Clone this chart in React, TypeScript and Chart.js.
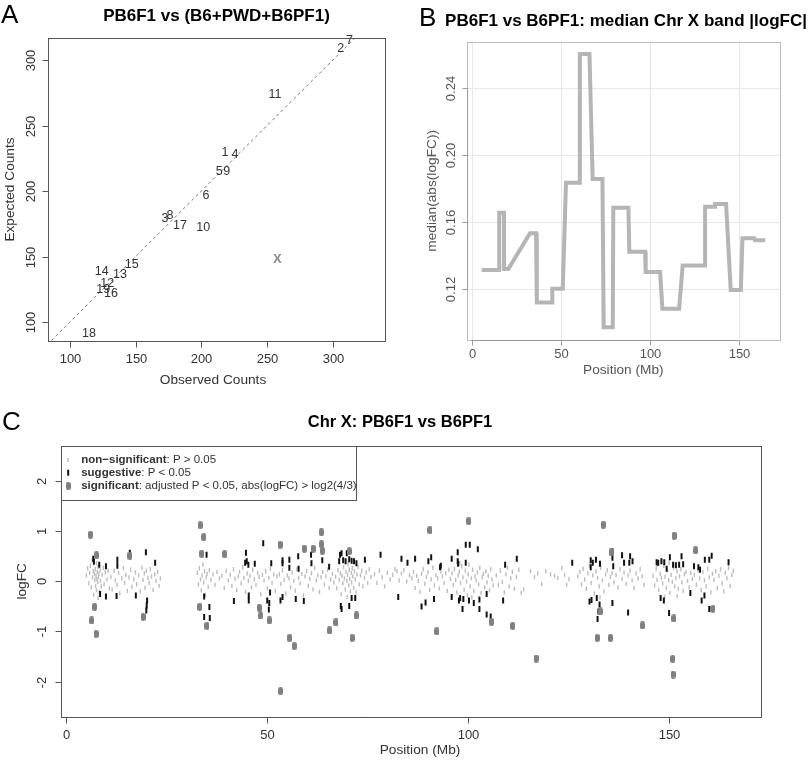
import React, { useEffect, useRef } from "react";
import { Chart, registerables } from "chart.js";

Chart.register(...registerables);

const SANS = '"Liberation Sans", Arial, Helvetica, sans-serif';

// ---------------- Panel A data ----------------
const chromosomes = ["1", "2", "3", "4", "5", "6", "7", "8", "9", "10", "11", "12", "13", "14", "15", "16", "17", "18", "19", "X"];
const observedCounts = [218, 306, 172.3, 225.6, 213.6, 203.5, 312.6, 176.1, 219.3, 201.4, 256, 128.4, 138, 124.1, 147, 131.2, 183.7, 114.5, 125.3, 257.8];
const expectedCounts = [229.2, 308.9, 179.2, 227.5, 214.5, 196.2, 314.7, 180.9, 214.5, 172.3, 273.3, 129, 135.9, 138.4, 143.5, 121.4, 173.3, 91.4, 125, 147.9];
const aTicks = [100, 150, 200, 250, 300];

// ---------------- Panel B data ----------------
const bandPos = [5.6, 15.5, 15.5, 18.2, 18.2, 20.6, 32.8, 36.2, 36.6, 45.3, 45.3, 51.2, 53, 60.5, 60.8, 66.2, 68, 73.5, 74.2, 79.3, 79.6, 88.1, 88.6, 97.5, 97.8, 105.9, 107.2, 116.6, 118.6, 131.2, 131.2, 136.8, 136.8, 143, 145.6, 151.3, 152.2, 158.8, 159.3, 165];
const bandMedian = [0.1313, 0.1313, 0.1656, 0.1656, 0.1319, 0.1319, 0.1533, 0.1533, 0.112, 0.112, 0.1202, 0.1202, 0.1836, 0.1836, 0.2605, 0.2605, 0.1858, 0.1858, 0.0971, 0.0971, 0.1686, 0.1686, 0.1423, 0.1423, 0.1301, 0.1301, 0.1082, 0.1082, 0.1341, 0.1341, 0.1692, 0.1692, 0.1708, 0.1708, 0.1194, 0.1194, 0.1503, 0.1503, 0.1491, 0.1491];
const bXTicks = [0, 50, 100, 150];
const bYTicks = [0.12, 0.16, 0.2, 0.24];

// ---------------- Panel C data: [position Mb, logFC] ----------------
const nonSignificant = [
  [5.1, 0.12], [5.4, 0.26], [5.7, -0.04], [5.9, 0.17], [6.1, 0.31], [6.3, -0.12], [6.6, 0.08], [6.8, 0.2], [6.9, -0.27], [7.1, 0.14], [7.2, 0.03], [7.3, 0.24], [7.4, -0.09], [7.5, 0.11], [7.6, 0.36], [7.6, -0.18], [7.7, 0.05], [7.8, 0.19], [7.9, -0.01], [8.0, 0.29], [8.0, -0.33], [8.1, 0.09], [8.2, 0.15], [8.3, -0.21], [8.5, 0.22], [8.6, 0.01], [8.8, -0.1], [9.0, 0.13], [9.3, 0.27], [9.5, -0.06], [9.8, 0.18], [10.2, 0.04], [10.5, 0.21], [10.8, -0.14], [6.5, 0.42],
  [11.2, 0.09], [11.5, -0.16], [12.0, 0.21], [12.3, 0.02], [12.7, -0.07], [13.1, 0.17], [13.4, -0.24], [13.9, 0.06], [14.3, 0.26], [14.6, -0.03], [14.9, 0.13], [15.3, -0.19], [15.7, 0.08], [16.1, 0.23], [16.4, -0.11], [16.9, 0.04], [17.3, 0.18], [17.6, -0.06], [18.1, 0.12], [18.5, -0.2], [18.9, 0.27], [19.2, 0.03], [19.5, 0.16], [19.7, -0.13], [20.0, 0.21], [20.4, 0.07], [20.7, -0.03], [21.0, 0.24], [21.3, 0.1], [21.7, -0.17], [22.1, 0.14], [22.4, 0.01], [22.8, 0.19], [23.2, -0.09], [23.5, 0.06],
  [32.7, 0.17], [33.0, -0.06], [33.2, 0.26], [33.5, 0.04], [33.7, -0.18], [33.9, 0.12], [34.1, 0.33], [34.3, -0.02], [34.5, 0.2], [34.7, -0.27], [34.9, 0.08], [35.1, 0.15], [35.4, -0.11], [35.7, 0.22], [36.1, 0.03], [36.6, 0.14], [37.1, -0.07], [37.6, 0.19], [38.2, 0.06], [38.8, 0.11], [39.4, -0.13], [39.9, 0.21], [40.4, 0.02],
  [40.9, 0.13], [41.3, -0.09], [41.7, 0.24], [42.1, 0.05], [42.5, -0.17], [42.9, 0.1], [43.2, 0.19], [43.6, -0.04], [44.0, 0.28], [44.3, 0.07], [44.7, -0.21], [45.1, 0.16], [45.4, 0.01], [45.8, 0.11], [46.2, -0.12], [46.5, 0.23], [46.9, 0.04], [47.3, -0.07], [47.7, 0.17], [48.1, 0.09], [48.5, -0.26], [48.9, 0.13], [49.3, 0.02], [49.7, 0.2], [50.1, -0.14], [50.5, 0.07], [50.9, 0.25], [51.3, -0.03], [51.7, 0.14], [52.1, -0.19], [52.5, 0.1],
  [53.1, 0.14], [53.5, -0.05], [53.9, 0.22], [54.3, 0.03], [54.7, -0.24], [55.1, 0.12], [55.5, 0.06], [55.9, -0.12], [56.3, 0.18], [56.7, 0.01], [57.1, -0.19], [57.5, 0.24], [57.9, 0.07], [58.3, -0.04], [58.7, 0.15], [59.1, -0.28], [59.5, 0.1], [59.9, 0.2], [60.3, -0.09], [60.7, 0.05], [61.1, 0.16], [61.5, -0.16], [61.9, 0.27], [62.3, 0.02], [62.7, 0.12], [63.1, -0.21], [63.5, 0.08], [63.9, 0.19], [64.3, -0.06], [64.7, 0.1], [65.1, 0.23], [65.5, -0.13], [65.9, 0.04], [66.3, 0.15], [66.7, -0.02],
  [67.1, 0.09], [67.4, -0.14], [67.7, 0.22], [68.0, 0.03], [68.3, 0.16], [68.5, -0.26], [68.7, 0.11], [68.9, -0.04], [69.1, 0.28], [69.3, 0.06], [69.5, -0.16], [69.7, 0.19], [69.9, 0.01], [70.0, -0.31], [70.1, 0.13], [70.2, 0.34], [70.4, -0.08], [70.5, 0.23], [70.6, 0.05], [70.8, -0.2], [71.0, 0.17], [71.1, -0.02], [71.3, 0.26], [71.4, 0.1], [71.6, -0.13], [71.8, 0.2], [72.0, 0.04], [72.2, -0.22], [72.4, 0.14], [72.7, 0.29], [73.0, -0.06], [73.3, 0.12], [73.6, 0.21], [73.9, -0.1], [74.3, 0.07], [74.7, 0.18], [75.1, -0.03], [75.5, 0.24], [75.9, 0.09], [70.3, 0.4],
  [76.8, 0.14], [77.4, -0.03], [78.0, 0.21], [78.7, 0.08], [79.3, -0.1], [80.0, 0.17], [80.7, 0.04], [81.3, 0.13], [81.9, 0.24], [82.4, 0.2], [82.9, 0.02], [83.5, 0.16], [84.1, 0.22], [84.8, 0.0], [85.5, 0.12],
  [86.1, 0.06], [86.5, 0.19], [86.9, -0.13], [87.3, 0.11], [87.7, 0.01], [88.1, -0.21], [88.5, 0.15], [88.9, 0.24], [89.3, -0.05], [89.7, 0.09], [90.1, 0.18], [90.5, -0.17], [90.9, 0.04], [91.3, 0.27], [91.7, -0.08], [92.1, 0.13], [92.5, 0.06], [92.9, -0.14], [93.3, 0.2], [93.7, 0.1], [94.1, -0.03], [94.5, 0.16], [94.9, -0.19], [95.3, 0.23], [95.7, 0.05],
  [96.1, 0.16], [96.4, -0.07], [96.7, 0.24], [97.0, 0.03], [97.3, -0.22], [97.6, 0.12], [97.9, 0.19], [98.2, -0.03], [98.5, 0.3], [98.8, 0.08], [99.1, -0.17], [99.4, 0.21], [99.7, 0.0], [99.9, -0.28], [100.1, 0.14], [100.3, 0.33], [100.6, -0.1], [100.9, 0.06], [101.2, 0.23], [101.5, -0.19], [101.8, 0.1], [102.1, 0.02], [102.4, 0.18], [102.7, -0.06], [103.0, 0.27], [103.3, -0.23], [103.6, 0.08], [103.9, 0.15], [104.2, -0.12], [104.5, 0.2], [104.8, -0.02], [105.1, 0.11], [105.4, -0.18], [105.7, 0.24], [106.0, 0.04], [106.3, -0.08], [101.0, -0.32], [98.0, 0.36],
  [107.1, 0.12], [107.6, -0.07], [108.1, 0.21], [108.6, -0.01], [109.1, -0.22], [109.5, 0.14], [109.9, 0.27], [110.3, -0.1], [110.7, 0.06], [111.1, 0.19], [111.6, -0.15], [112.1, 0.09], [112.7, 0.23], [113.3, -0.23], [113.9, -0.16],
  [115.6, 0.2], [116.6, 0.09], [117.4, 0.16], [118.4, -0.05], [119.4, 0.2], [120.6, 0.14], [121.6, 0.11], [122.4, 0.07], [123.4, 0.26], [124.1, 0.13], [124.6, -0.07], [125.2, 0.04],
  [127.4, 0.1], [127.9, 0.19], [128.3, -0.06], [128.7, 0.25], [129.1, 0.04], [129.5, -0.15], [129.9, 0.16], [130.3, 0.31], [130.7, -0.03], [131.1, 0.12], [131.5, -0.24], [131.9, 0.2], [132.3, 0.07], [132.7, -0.1], [133.1, 0.27], [133.5, 0.02], [133.9, -0.2], [134.3, 0.14], [134.7, 0.22], [135.1, -0.07], [135.5, 0.09], [135.9, 0.17], [136.4, -0.02], [136.9, 0.13], [137.4, -0.12], [137.9, 0.24], [138.4, 0.05], [138.9, 0.18], [139.4, -0.05], [139.9, 0.12], [140.4, 0.21], [140.9, 0.02], [141.4, -0.13], [141.9, 0.16], [142.4, 0.06], [142.9, 0.24], [143.4, 0.1], [143.9, -0.07], [132.9, -0.32], [131.3, 0.38],
  [146.1, 0.11], [146.5, -0.08], [146.9, 0.25], [147.1, 0.03], [147.5, -0.17], [147.9, 0.15], [148.2, 0.07], [148.5, -0.04], [148.8, 0.31], [149.1, 0.09], [149.4, -0.13], [149.7, 0.22], [150.0, 0.02], [150.3, -0.23], [150.6, 0.13], [150.9, -0.01], [151.2, 0.27], [151.5, -0.1], [151.8, 0.06], [152.1, 0.2], [152.4, -0.15], [152.7, 0.1], [153.0, 0.24], [153.3, -0.02], [153.6, -0.19], [153.9, 0.14], [154.3, 0.19], [154.7, 0.01], [155.1, -0.12], [155.5, 0.17], [155.9, 0.05], [149.0, -0.31], [150.1, 0.37], [147.1, 0.33], [152.1, -0.3],
  [156.4, 0.13], [156.9, -0.07], [157.3, 0.22], [157.7, 0.06], [158.1, -0.17], [158.5, 0.19], [158.9, 0.02], [159.3, -0.1], [159.7, 0.25], [160.1, 0.08], [160.5, -0.22], [160.9, 0.15], [161.3, 0.03], [161.7, 0.2], [162.1, -0.14], [162.5, 0.11], [162.9, 0.24], [163.3, -0.04], [163.7, -0.2], [164.1, 0.17], [164.5, 0.06], [164.9, 0.27], [165.3, -0.09], [165.7, 0.13], [166.1, 0.21],
];

const suggestive = [
  [6.97, 0.39], [6.8, 0.45], [8.3, 0.33], [9.96, 0.3], [12.8, 0.43], [12.8, 0.31], [15.9, 0.57], [19.9, 0.58], [22.2, 0.37],
  [8.5, -0.25], [9.96, -0.3], [12.6, -0.29], [17.4, -0.28], [20.2, -0.38], [20.1, -0.48], [20.0, -0.58],
  [35.0, 0.53], [34.4, -0.3], [35.7, -0.51], [34.4, -0.71], [35.8, -0.73], [41.8, -0.39],
  [44.8, 0.57], [44.6, 0.37], [45.0, 0.4], [45.4, 0.33], [47.0, 0.35], [49.1, 0.76], [51.1, 0.36], [53.9, 0.42], [53.9, 0.36], [55.6, 0.43], [57.8, 0.5], [55.6, 0.27], [57.9, 0.25], [61.0, 0.53], [61.1, 0.36], [63.8, 0.42], [65.5, 0.29], [68.2, 0.53], [68.0, 0.4], [69.0, 0.42], [69.6, 0.4], [70.5, 0.44], [71.1, 0.41], [71.7, 0.4], [72.3, 0.36], [68.6, 0.56], [69.9, 0.56], [74.4, 0.43], [78.3, 0.53], [83.5, 0.45], [85.0, 0.37],
  [45.5, -0.38], [45.5, -0.28], [50.1, -0.38], [50.6, -0.43], [50.5, -0.56], [50.8, -0.22], [53.4, -0.38], [53.9, -0.31], [57.2, -0.35], [59.2, -0.39], [68.4, -0.49], [68.6, -0.55], [70.5, -0.49], [71.1, -0.33], [72.0, -0.33], [82.7, -0.31],
  [86.9, 0.45], [90.2, 0.4], [90.9, 0.48], [93.1, 0.28], [93.3, 0.31], [97.5, 0.58], [97.5, 0.4], [97.6, 0.35], [99.5, 0.37], [99.5, 0.73], [100.5, 0.73], [102.5, 0.64], [96.0, 0.45], [109.3, 0.33], [112.2, 0.45], [126.0, 0.37],
  [88.5, -0.5], [89.5, -0.42], [91.6, -0.35], [96.0, -0.31], [97.8, -0.38], [98.1, -0.33], [98.9, -0.35], [100.3, -0.38], [101.5, -0.43], [98.7, -0.55], [102.9, -0.36], [102.9, -0.55], [104.7, -0.66], [105.7, -0.7], [108.8, -0.38], [104.7, -0.25],
  [130.6, 0.42], [131.1, 0.37], [131.9, 0.43], [132.9, 0.35], [130.6, 0.28], [136.0, 0.6], [136.0, 0.47], [136.2, 0.3], [138.4, 0.52], [138.9, 0.37], [140.4, 0.5], [141.0, 0.4], [140.2, 0.37],
  [130.3, -0.4], [130.8, -0.37], [132.1, -0.33], [132.8, -0.46], [132.5, -0.6], [132.3, -0.75], [136.0, -0.43], [139.9, -0.62],
  [147.0, 0.38], [147.4, 0.37], [148.2, 0.4], [148.9, 0.38], [149.5, 0.25], [150.3, 0.48], [151.1, 0.33], [151.8, 0.32], [152.6, 0.33], [153.6, 0.34], [153.2, 0.5], [156.3, 0.3], [157.4, 0.28], [157.8, 0.23], [159.0, 0.43], [160.1, 0.43], [160.7, 0.51], [164.9, 0.38],
  [148.0, -0.33], [148.8, -0.38], [150.1, -0.63], [155.4, -0.23], [158.2, -0.38], [158.9, -0.28], [160.1, -0.55],
];

const significant = [
  [6.1, 0.93], [7.6, 0.52], [15.9, 0.51], [7.1, -0.51], [6.4, -0.78], [7.5, -1.05], [19.2, -0.71],
  [33.4, 1.12], [34.3, 0.88], [33.8, 0.55], [39.5, 0.54], [33.3, -0.51], [35.1, -0.89],
  [53.3, 0.73], [59.3, 0.65], [61.5, 0.65], [63.6, 0.98], [63.6, 0.74], [63.8, 0.61], [70.5, 0.6],
  [48.1, -0.53], [48.4, -0.68], [50.6, -0.78], [55.7, -1.13], [56.8, -1.29], [65.6, -0.98], [67.2, -0.82], [72.3, -0.68], [71.2, -1.13], [53.4, -2.19],
  [90.6, 1.02], [100.2, 1.2], [92.3, -1.0], [105.9, -0.81], [111.2, -0.89], [117.0, -1.54],
  [133.7, 1.13], [135.7, 0.58], [133.0, -0.6], [132.2, -1.13], [135.5, -1.13], [143.5, -0.88],
  [151.4, 0.91], [156.7, 0.62], [151.3, -0.74], [161.0, -0.55], [151.0, -1.55], [151.1, -1.86],
];
const cXTicks = [0, 50, 100, 150];
const cYTicks = [-2, -1, 0, 1, 2];

// ---------------- drawing helpers ----------------
function vtext(ctx: CanvasRenderingContext2D, text: string, x: number, y: number) {
  ctx.save();
  ctx.translate(x, y);
  ctx.rotate(-Math.PI / 2);
  ctx.fillText(text, 0, 0);
  ctx.restore();
}

type AxisCfg = {
  xTicks: number[];
  yTicks: number[];
  yFmt?: (v: number) => string;
  boxColor: string;
  axisColor: string;
  textColor: string;
  tickLen: number;
  tickFont: string;
  axisTitleFont: string;
  xLabelDy: number;
  yLabelDx: number;
  xTitle: string;
  xTitleX?: number;
  xTitleY: number;
  yTitle: string;
  yTitleX: number;
  grid?: string;
  title: string;
  titleX?: number;
  titleY: number;
  titleFont: string;
  letter: string;
  letterX: number;
  letterY: number;
};

function axesPlugin(cfg: AxisCfg) {
  return {
    id: "rAxes",
    beforeDatasetsDraw(chart: any) {
      if (!cfg.grid) return;
      const { ctx, chartArea: a, scales } = chart;
      ctx.save();
      ctx.strokeStyle = cfg.grid;
      ctx.lineWidth = 1;
      cfg.xTicks.forEach((t) => {
        const x = Math.round(scales.x.getPixelForValue(t)) + 0.5;
        ctx.beginPath();
        ctx.moveTo(x, a.top);
        ctx.lineTo(x, a.bottom);
        ctx.stroke();
      });
      cfg.yTicks.forEach((t) => {
        const y = Math.round(scales.y.getPixelForValue(t)) + 0.5;
        ctx.beginPath();
        ctx.moveTo(a.left, y);
        ctx.lineTo(a.right, y);
        ctx.stroke();
      });
      ctx.restore();
    },
    afterDatasetsDraw(chart: any) {
      const { ctx, chartArea: a, scales } = chart;
      const xs = scales.x;
      const ys = scales.y;
      ctx.save();
      ctx.lineWidth = 1;
      ctx.strokeStyle = cfg.boxColor;
      ctx.strokeRect(Math.round(a.left) + 0.5, Math.round(a.top) + 0.5, Math.round(a.right - a.left), Math.round(a.bottom - a.top));

      ctx.strokeStyle = cfg.axisColor;
      const by = Math.round(a.bottom) + 0.5;
      const x0 = xs.getPixelForValue(cfg.xTicks[0]);
      const x1 = xs.getPixelForValue(cfg.xTicks[cfg.xTicks.length - 1]);
      ctx.beginPath();
      ctx.moveTo(x0, by);
      ctx.lineTo(x1, by);
      ctx.stroke();
      ctx.fillStyle = cfg.textColor;
      ctx.font = cfg.tickFont;
      ctx.textAlign = "center";
      ctx.textBaseline = "middle";
      cfg.xTicks.forEach((t) => {
        const x = Math.round(xs.getPixelForValue(t)) + 0.5;
        ctx.beginPath();
        ctx.moveTo(x, by);
        ctx.lineTo(x, by + cfg.tickLen);
        ctx.stroke();
        ctx.fillText(String(t), x, a.bottom + cfg.xLabelDy);
      });

      const lx = Math.round(a.left) + 0.5;
      const y0 = ys.getPixelForValue(cfg.yTicks[0]);
      const y1 = ys.getPixelForValue(cfg.yTicks[cfg.yTicks.length - 1]);
      ctx.beginPath();
      ctx.moveTo(lx, y0);
      ctx.lineTo(lx, y1);
      ctx.stroke();
      cfg.yTicks.forEach((t) => {
        const y = Math.round(ys.getPixelForValue(t)) + 0.5;
        ctx.beginPath();
        ctx.moveTo(lx, y);
        ctx.lineTo(lx - cfg.tickLen, y);
        ctx.stroke();
        vtext(ctx, cfg.yFmt ? cfg.yFmt(t) : String(t), a.left - cfg.yLabelDx, y);
      });

      // axis titles
      ctx.font = cfg.axisTitleFont;
      ctx.fillText(cfg.xTitle, cfg.xTitleX ?? (a.left + a.right) / 2, cfg.xTitleY);
      vtext(ctx, cfg.yTitle, cfg.yTitleX, (a.top + a.bottom) / 2);

      // main title
      ctx.fillStyle = "#000";
      ctx.font = cfg.titleFont;
      ctx.fillText(cfg.title, cfg.titleX ?? (a.left + a.right) / 2, cfg.titleY);

      // panel letter
      ctx.font = `26px ${SANS}`;
      ctx.textAlign = "left";
      ctx.fillText(cfg.letter, cfg.letterX, cfg.letterY);
      ctx.restore();
    },
  };
}

function ChartCanvas(props: { left: number; top: number; width: number; height: number; make: () => any }) {
  const ref = useRef<HTMLCanvasElement | null>(null);
  useEffect(() => {
    const chart = new Chart(ref.current as HTMLCanvasElement, props.make());
    return () => chart.destroy();
  }, []);
  return (
    <canvas
      ref={ref}
      width={props.width}
      height={props.height}
      style={{ position: "absolute", left: props.left, top: props.top, width: props.width, height: props.height }}
    />
  );
}

const baseOptions = {
  animation: false,
  responsive: false,
  maintainAspectRatio: false,
  events: [],
  plugins: { legend: { display: false }, tooltip: { enabled: false }, title: { display: false } },
};

// ---------------- Panel A ----------------
function makeA() {
  const labelPlugin = {
    id: "chromLabels",
    afterDatasetsDraw(chart: any) {
      const meta = chart.getDatasetMeta(0);
      const ctx = chart.ctx;
      ctx.save();
      ctx.textAlign = "center";
      ctx.textBaseline = "middle";
      meta.data.forEach((el: any, i: number) => {
        const lab = chromosomes[i];
        ctx.fillStyle = lab === "X" ? "#8a8a8a" : "#333";
        ctx.font = lab === "X" ? `bold 13px ${SANS}` : `12.5px ${SANS}`;
        ctx.fillText(lab, el.x, el.y);
      });
      ctx.restore();
    },
  };
  return {
    type: "scatter",
    data: {
      datasets: [
        {
          label: "chromosomes",
          data: observedCounts.map((o, i) => ({ x: o, y: expectedCounts[i] })),
          pointRadius: 0,
        },
        {
          label: "identity",
          data: [{ x: 60, y: 60 }, { x: 360, y: 360 }],
          showLine: true,
          borderColor: "#777",
          borderWidth: 1,
          borderDash: [3, 3],
          pointRadius: 0,
        },
      ],
    },
    options: {
      ...baseOptions,
      layout: { padding: { left: 48, right: 15, top: 38, bottom: 54 } },
      scales: {
        x: { type: "linear", min: 83.3, max: 339.7, display: false },
        y: { type: "linear", min: 85.5, max: 316.8, display: false },
      },
    },
    plugins: [
      labelPlugin,
      axesPlugin({
        xTicks: aTicks,
        yTicks: aTicks,
        boxColor: "#555",
        axisColor: "#555",
        textColor: "#333",
        tickLen: 6,
        tickFont: `13px ${SANS}`,
        axisTitleFont: `13.7px ${SANS}`,
        xLabelDy: 18,
        yLabelDx: 17,
        xTitle: "Observed Counts",
        xTitleX: 213,
        xTitleY: 380,
        yTitle: "Expected Counts",
        yTitleX: 10,
        title: "PB6F1 vs (B6+PWD+B6PF1)",
        titleY: 16,
        titleFont: `bold 17px ${SANS}`,
        letter: "A",
        letterX: 1,
        letterY: 16,
      }),
    ],
  };
}

// ---------------- Panel B ----------------
function makeB() {
  return {
    type: "scatter",
    data: {
      datasets: [
        {
          label: "median |logFC|",
          data: bandPos.map((p, i) => ({ x: p, y: bandMedian[i] })),
          showLine: true,
          borderColor: "#b5b5b5",
          borderWidth: 4,
          borderJoinStyle: "miter",
          pointRadius: 0,
          tension: 0,
        },
      ],
    },
    options: {
      ...baseOptions,
      layout: { padding: { left: 66.7, right: 32, top: 41.7, bottom: 55 } },
      scales: {
        x: { type: "linear", min: -2.8, max: 173.3, display: false },
        y: { type: "linear", min: 0.0895, max: 0.2679, display: false },
      },
    },
    plugins: [
      axesPlugin({
        xTicks: bXTicks,
        yTicks: bYTicks,
        yFmt: (v) => v.toFixed(2),
        boxColor: "#bdbdbd",
        axisColor: "#999",
        textColor: "#555",
        tickLen: 5,
        tickFont: `13px ${SANS}`,
        axisTitleFont: `13.7px ${SANS}`,
        xLabelDy: 14,
        yLabelDx: 15,
        xTitle: "Position (Mb)",
        xTitleY: 370,
        yTitle: "median(abs(logFC))",
        yTitleX: 32,
        grid: "#e8e8e8",
        title: "PB6F1 vs B6PF1: median Chr X band |logFC|",
        titleX: 226,
        titleY: 21,
        titleFont: `bold 17px ${SANS}`,
        letter: "B",
        letterX: 19,
        letterY: 19,
      }),
    ],
  };
}

// ---------------- Panel C ----------------
function makeC() {
  const sigMark = document.createElement("canvas");
  sigMark.width = 5;
  sigMark.height = 8;
  const sctx = sigMark.getContext("2d") as CanvasRenderingContext2D;
  sctx.fillStyle = "#808080";
  sctx.beginPath();
  (sctx as any).roundRect(0, 0, 5, 8, 2.2);
  sctx.fill();

  const legendPlugin = {
    id: "cLegend",
    afterDatasetsDraw(chart: any) {
      const { ctx, chartArea: a } = chart;
      ctx.save();
      ctx.fillStyle = "#fff";
      ctx.fillRect(a.left, a.top, 295, 54);
      ctx.strokeStyle = "#555";
      ctx.lineWidth = 1;
      ctx.strokeRect(Math.round(a.left) + 0.5, Math.round(a.top) + 0.5, 295, 54);
      const rows = [
        { bold: "non\u2212significant", rest: ": P > 0.05", dy: 14 },
        { bold: "suggestive", rest: ": P < 0.05", dy: 26.7 },
        { bold: "significant", rest: ": adjusted P < 0.05, abs(logFC) > log2(4/3)", dy: 40 },
      ];
      const mx = a.left + 7.5;
      ctx.strokeStyle = "#c2c2c2";
      ctx.lineWidth = 1.5;
      ctx.beginPath();
      ctx.moveTo(mx, a.top + rows[0].dy - 2);
      ctx.lineTo(mx, a.top + rows[0].dy + 2);
      ctx.stroke();
      ctx.strokeStyle = "#111";
      ctx.lineWidth = 2;
      ctx.beginPath();
      ctx.moveTo(mx, a.top + rows[1].dy - 3);
      ctx.lineTo(mx, a.top + rows[1].dy + 3);
      ctx.stroke();
      ctx.drawImage(sigMark, mx - 2.5, a.top + rows[2].dy - 4);
      ctx.textBaseline = "middle";
      ctx.textAlign = "left";
      ctx.fillStyle = "#333";
      rows.forEach((r) => {
        ctx.font = `bold 11.5px ${SANS}`;
        const tx = a.left + 20.5;
        ctx.fillText(r.bold, tx, a.top + r.dy);
        const w = ctx.measureText(r.bold).width;
        ctx.font = `11.5px ${SANS}`;
        ctx.fillText(r.rest, tx + w, a.top + r.dy);
      });
      ctx.restore();
    },
  };

  const toXY = (arr: number[][]) => arr.map((p) => ({ x: p[0], y: p[1] }));
  return {
    type: "scatter",
    data: {
      datasets: [
        {
          label: "non-significant",
          data: toXY(nonSignificant),
          pointStyle: "line",
          pointRotation: 90,
          pointRadius: 2.2,
          pointBorderWidth: 1.4,
          pointBorderColor: "#bdbdbd",
          order: 3,
        },
        {
          label: "suggestive",
          data: toXY(suggestive),
          pointStyle: "line",
          pointRotation: 90,
          pointRadius: 3,
          pointBorderWidth: 2,
          pointBorderColor: "#111",
          order: 2,
        },
        {
          label: "significant",
          data: toXY(significant),
          pointStyle: sigMark,
          pointRadius: 4,
          order: 1,
        },
      ],
    },
    options: {
      ...baseOptions,
      layout: { padding: { left: 60.7, right: 51.3, top: 51, bottom: 43.3 } },
      scales: {
        x: { type: "linear", min: -1.3, max: 172.9, display: false },
        y: { type: "linear", min: -2.7, max: 2.7, display: false },
      },
    },
    plugins: [
      legendPlugin,
      axesPlugin({
        xTicks: cXTicks,
        yTicks: cYTicks,
        boxColor: "#555",
        axisColor: "#555",
        textColor: "#333",
        tickLen: 6,
        tickFont: `13px ${SANS}`,
        axisTitleFont: `13.7px ${SANS}`,
        xLabelDy: 19,
        yLabelDx: 18,
        xTitle: "Position (Mb)",
        xTitleX: 420,
        xTitleY: 355,
        yTitle: "logFC",
        yTitleX: 22,
        title: "Chr X: PB6F1 vs B6PF1",
        titleX: 400,
        titleY: 27,
        titleFont: `bold 16.5px ${SANS}`,
        letter: "C",
        letterX: 2,
        letterY: 28,
      }),
    ],
  };
}

export default function App() {
  return (
    <div style={{ position: "absolute", left: 0, top: 0, width: 812, height: 760, background: "#fff", overflow: "hidden" }}>
      <ChartCanvas left={0} top={0} width={400} height={395} make={makeA} />
      <ChartCanvas left={400} top={0} width={412} height={395} make={makeB} />
      <ChartCanvas left={0} top={395} width={812} height={365} make={makeC} />
    </div>
  );
}
